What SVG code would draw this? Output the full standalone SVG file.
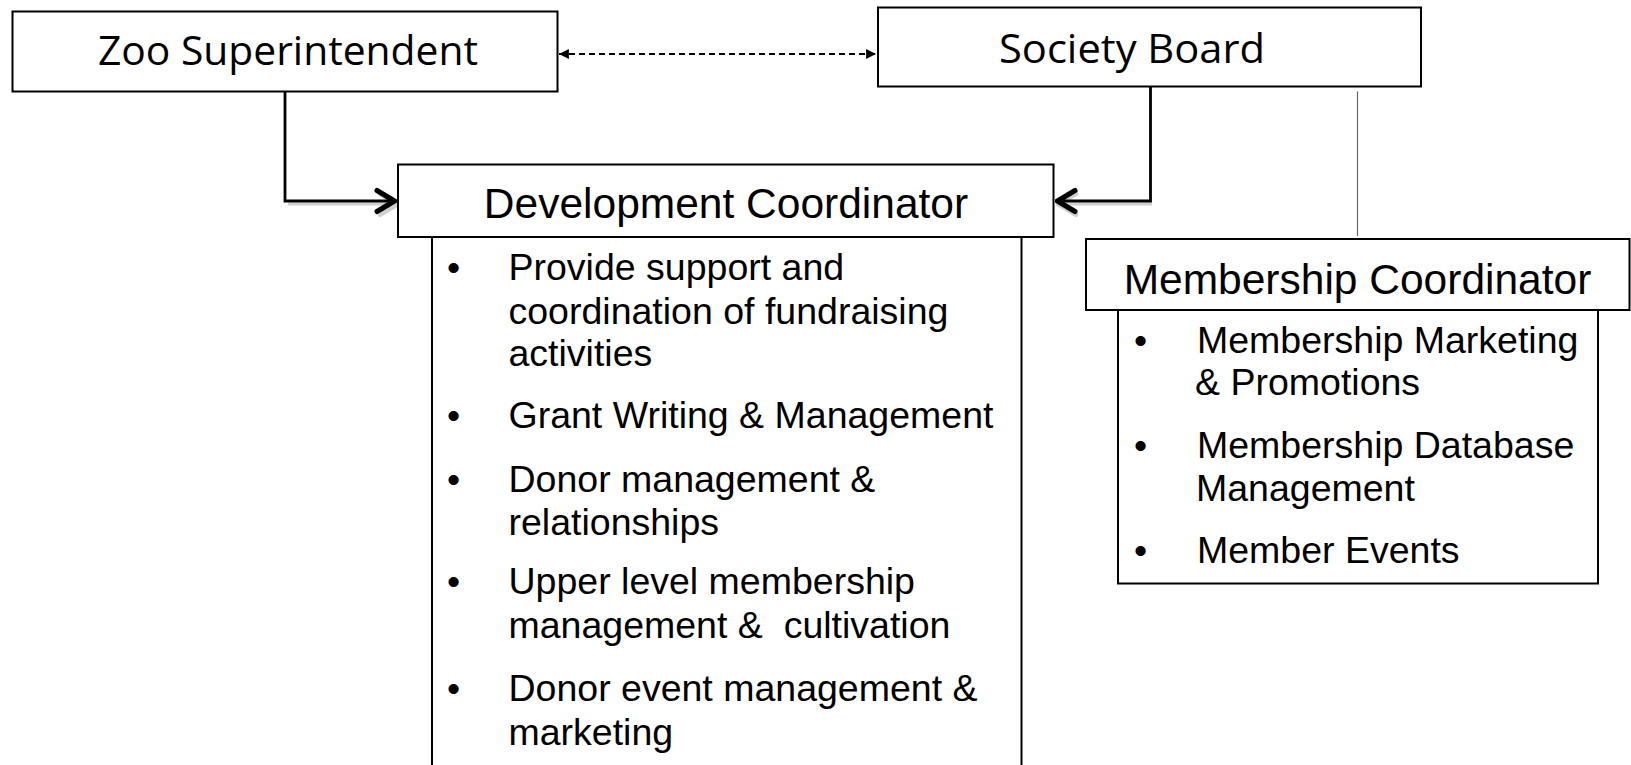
<svg xmlns="http://www.w3.org/2000/svg" width="1631" height="765" viewBox="0 0 1631 765">
<style>
.box{fill:#fff;stroke:#000;stroke-width:2}
.side{fill:none;stroke:#000;stroke-width:2}
.h1{font-family:"Open Sans",Lato,sans-serif;font-size:40px;fill:#000}
.h2{font-family:"Liberation Sans",Arial,sans-serif;font-size:42.5px;fill:#000;text-anchor:middle}
.li{font-family:"Liberation Sans",Arial,sans-serif;font-size:37.5px;fill:#000}
.conn{fill:none;stroke:#000;stroke-width:2.8}
.shadow{fill:none;stroke:#d0d0d0;stroke-width:3}
</style>
<defs>
<marker id="tri" viewBox="0 0 10 10" refX="10" refY="5" markerWidth="5.5" markerHeight="5.5" orient="auto-start-reverse" markerUnits="strokeWidth">
<path d="M0,0 L10,5 L0,10 Z" fill="#000"/>
</marker>
<marker id="chev" viewBox="0 0 28 28" refX="25" refY="14" markerWidth="28" markerHeight="28" orient="auto" markerUnits="userSpaceOnUse">
<path d="M5,3.5 L22.5,14 L5,24.5" fill="none" stroke="#000" stroke-width="5" stroke-linecap="round" stroke-linejoin="round"/>
</marker>
<marker id="chevs" viewBox="0 0 28 28" refX="25" refY="14" markerWidth="28" markerHeight="28" orient="auto" markerUnits="userSpaceOnUse">
<path d="M5,3.5 L22.5,14 L5,24.5" fill="none" stroke="#d0d0d0" stroke-width="5" stroke-linecap="round" stroke-linejoin="round"/>
</marker>
</defs>
<rect width="1631" height="765" fill="#fff"/>
<g id="connectors">
<path class="shadow" d="M288,204 L400,204" marker-end="url(#chevs)"/>
<path class="shadow" d="M1152,204 L1056,204" marker-end="url(#chevs)"/>
<path class="conn" d="M285,89 L285,201 L397,201" marker-end="url(#chev)"/>
<path class="conn" d="M1150.5,87 L1150.5,201 L1055,201" marker-end="url(#chev)"/>
<line x1="559" y1="54" x2="876" y2="54" stroke="#000" stroke-width="1.8" stroke-dasharray="6,4" marker-start="url(#tri)" marker-end="url(#tri)"/>
<line x1="1357.5" y1="91.5" x2="1357.5" y2="236" stroke="#666" stroke-width="1.2"/>
</g>
<g id="zoo-superintendent">
<rect class="box" x="12.5" y="11.5" width="545" height="80"/>
<text class="h1" x="98" y="65" textLength="380" lengthAdjust="spacingAndGlyphs">Zoo Superintendent</text>
</g>
<g id="society-board">
<rect class="box" x="878" y="7.5" width="543" height="79"/>
<text class="h1" x="999" y="62.5" textLength="266" lengthAdjust="spacingAndGlyphs">Society Board</text>
</g>
<g id="development-coordinator">
<path class="side" d="M432,237 L432,766 M1021.5,237 L1021.5,766"/>
<rect class="box" x="398" y="164.5" width="655.5" height="72.5"/>
<text class="h2" x="726" y="218">Development Coordinator</text>
<g class="li">
<text x="447" y="280">•</text><text x="508.5" y="280">Provide support and</text>
<text x="508.5" y="323.5">coordination of fundraising</text>
<text x="508.5" y="366">activities</text>
<text x="447" y="427.5">•</text><text x="508.5" y="427.5">Grant Writing &amp; Management</text>
<text x="447" y="492">•</text><text x="508.5" y="492">Donor management &amp;</text>
<text x="508.5" y="535">relationships</text>
<text x="447" y="594">•</text><text x="508.5" y="594">Upper level membership</text>
<text x="508.5" y="637.5" xml:space="preserve">management &amp;  cultivation</text>
<text x="447" y="701">•</text><text x="508.5" y="701">Donor event management &amp;</text>
<text x="508.5" y="745">marketing</text>
</g>
</g>
<g id="membership-coordinator">
<rect class="box" x="1118" y="310" width="480" height="273.5"/>
<rect class="box" x="1086" y="239" width="543.5" height="71"/>
<text class="h2" x="1357.5" y="294">Membership Coordinator</text>
<g class="li">
<text x="1134" y="352.5">•</text><text x="1197" y="352.5">Membership Marketing</text>
<text x="1195" y="395">&amp; Promotions</text>
<text x="1134" y="457.5">•</text><text x="1197" y="457.5">Membership Database</text>
<text x="1196" y="501">Management</text>
<text x="1134" y="563">•</text><text x="1197" y="563">Member Events</text>
</g>
</g>
</svg>
